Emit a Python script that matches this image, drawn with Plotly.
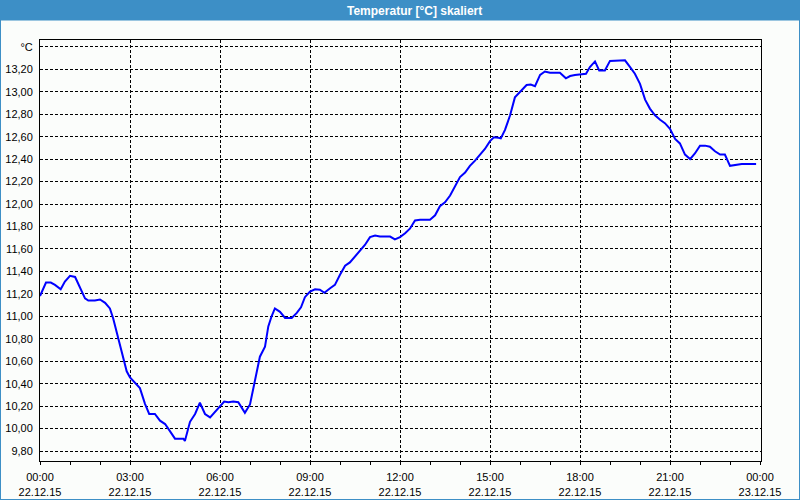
import plotly.graph_objects as go

# ---- data (hours after 22.12.15 00:00, temperature in °C) ----
hours = [0.0, 0.2, 0.36, 0.5, 0.69, 0.83, 1.0, 1.17, 1.5, 1.61, 1.83, 2.0, 2.17, 2.33, 2.44,
         2.61, 2.78, 2.89, 3.0, 3.17, 3.33, 3.5, 3.64, 3.83, 4.0, 4.17, 4.28, 4.5, 4.78, 4.83,
         5.0, 5.17, 5.33, 5.5, 5.67, 5.83, 6.0, 6.14, 6.28, 6.44, 6.61, 6.72, 6.83, 7.0, 7.11,
         7.22, 7.33, 7.5, 7.61, 7.72, 7.83, 8.0, 8.17, 8.39, 8.56, 8.7, 8.83, 9.0, 9.17, 9.33,
         9.48, 9.67, 9.83, 10.0, 10.17, 10.33, 10.5, 10.67, 10.83, 11.0, 11.17, 11.33, 11.67,
         11.83, 12.0, 12.17, 12.33, 12.5, 12.67, 13.0, 13.17, 13.33, 13.5, 13.67, 13.83, 14.0,
         14.17, 14.33, 14.5, 14.67, 14.83, 15.0, 15.13, 15.28, 15.36, 15.5, 15.67, 15.83, 16.06,
         16.22, 16.36, 16.5, 16.67, 16.83, 17.0, 17.33, 17.53, 17.67, 17.83, 18.0, 18.2, 18.33,
         18.5, 18.64, 18.83, 19.0, 19.33, 19.5, 19.67, 19.83, 20.0, 20.17, 20.33, 20.5, 20.67,
         20.83, 21.0, 21.17, 21.33, 21.5, 21.67, 21.83, 22.0, 22.17, 22.33, 22.5, 22.67, 22.83,
         23.0, 23.17, 23.39, 23.87]
temps = [11.18, 11.30, 11.30, 11.28, 11.24, 11.31, 11.36, 11.35, 11.16, 11.14, 11.14, 11.15, 11.12, 11.07, 10.98,
         10.80, 10.61, 10.51, 10.455, 10.41, 10.36, 10.22, 10.13, 10.13, 10.07, 10.04, 10.00, 9.91, 9.91, 9.89,
         10.06, 10.13, 10.23, 10.13, 10.10, 10.15, 10.20, 10.24, 10.235, 10.24, 10.235, 10.19, 10.14, 10.215, 10.35,
         10.51, 10.64, 10.73, 10.91, 11.00, 11.07, 11.04, 10.985, 10.985, 11.03, 11.08, 11.17, 11.22, 11.24, 11.237,
         11.21, 11.25, 11.28, 11.37, 11.45, 11.48, 11.53, 11.585, 11.635, 11.705, 11.72, 11.71, 11.71,
         11.685, 11.705, 11.74, 11.78, 11.853, 11.86, 11.86, 11.90, 11.98, 12.016, 12.076, 12.16, 12.24,
         12.28, 12.34, 12.387, 12.437, 12.49, 12.56, 12.594, 12.59, 12.585, 12.66, 12.79, 12.95, 13.01,
         13.06, 13.065, 13.05, 13.15, 13.18, 13.17, 13.17, 13.12, 13.14, 13.15, 13.155, 13.16, 13.22,
         13.27, 13.19, 13.19, 13.275, 13.275, 13.28, 13.22, 13.16, 13.07, 12.93, 12.85, 12.79, 12.75,
         12.72, 12.67, 12.58, 12.54, 12.44, 12.40, 12.45, 12.52, 12.52, 12.51, 12.47, 12.44, 12.44,
         12.34, 12.35, 12.357, 12.357]

x_tickvals = [0, 3, 6, 9, 12, 15, 18, 21, 24]
x_times = ["00:00", "03:00", "06:00", "09:00", "12:00", "15:00", "18:00", "21:00", "00:00"]
x_dates = ["22.12.15"] * 8 + ["23.12.15"]
y_tickvals = [9.8, 10.0, 10.2, 10.4, 10.6, 10.8, 11.0, 11.2, 11.4, 11.6, 11.8, 12.0, 12.2,
              12.4, 12.6, 12.8, 13.0, 13.2, 13.4]
y_ticktext = ["9,80", "10,00", "10,20", "10,40", "10,60", "10,80", "11,00", "11,20", "11,40",
              "11,60", "11,80", "12,00", "12,20", "12,40", "12,60", "12,80", "13,00", "13,20", "°C"]
title_text = "Temperatur [°C] skaliert"

# ---- layout geometry (pixels) ----
W, H = 800, 500
L, R, T, B = 40, 761, 40, 461
pw, ph = R - L, B - T

def px(x):
    return (x - L) / pw

def py(y):
    return (B - y) / ph

BLUE = "#3d8fc6"
BG = "#fbfdfb"
FONT = "Liberation Sans"

fig = go.Figure()
fig.add_trace(go.Scatter(x=hours, y=temps, mode="lines",
                         line=dict(color="#0000ff", width=2), hoverinfo="skip",
                         showlegend=False))

fig.update_layout(
    template="none",
    width=W, height=H,
    margin=dict(l=L, r=W - R, t=T, b=H - B, pad=0),
    paper_bgcolor=BG, plot_bgcolor=BG,
    font=dict(family=FONT, size=11, color="#000000"),
    showlegend=False,
    xaxis=dict(
        automargin=False,
        range=[0, 24 * pw / 720], tickmode="array", tickvals=x_tickvals,
        ticktext=[f"{t}<br>{d}" for t, d in zip(x_times, x_dates)],
        ticks="outside", ticklen=3, tickcolor="#000000", tickwidth=1, ticklabelstandoff=3,
        minor=dict(dtick=1, tick0=0, ticks="outside", ticklen=3, tickcolor="#000000",
                   showgrid=False),
        showgrid=True, gridcolor="#000000", gridwidth=1, griddash="3px,2px",
        showline=True, linecolor="#000000", linewidth=1, mirror=True,
        zeroline=False, fixedrange=True,
        tickfont=dict(family=FONT, size=11, color="#000000"),
    ),
    yaxis=dict(
        automargin=False,
        range=[9.711, 13.461], tickmode="array", tickvals=y_tickvals, ticktext=y_ticktext,
        ticks="", ticklabelstandoff=4,
        showgrid=True, gridcolor="#000000", gridwidth=1, griddash="3px,2px",
        showline=True, linecolor="#000000", linewidth=1, mirror=True,
        zeroline=False, fixedrange=True,
        tickfont=dict(family=FONT, size=11, color="#000000"),
    ),
    shapes=[
        dict(type="rect", xref="paper", yref="paper", x0=px(0), x1=px(W), y0=py(20.5), y1=py(0),
             fillcolor=BLUE, line=dict(width=0), layer="above"),
        dict(type="rect", xref="paper", yref="paper", x0=px(0), x1=px(W), y0=py(H), y1=py(0),
             fillcolor="rgba(0,0,0,0)", line=dict(color=BLUE, width=2), layer="above"),
    ],
    annotations=[
        dict(text=f"<b>{title_text}</b>", xref="paper", yref="paper", x=px(414), y=py(10.5),
             xanchor="center", yanchor="middle", showarrow=False,
             font=dict(family=FONT, size=12, color="#ffffff")),
    ],
)

fig.write_html("out.html")
